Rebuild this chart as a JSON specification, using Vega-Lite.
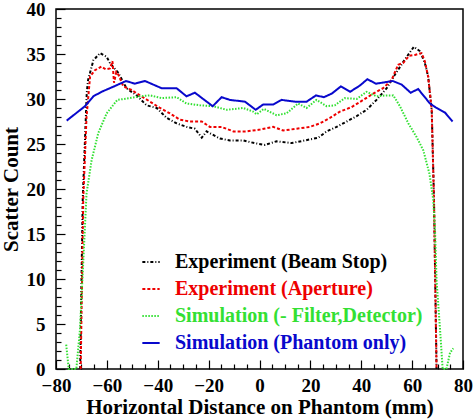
{
  "$schema": "https://vega.github.io/schema/vega-lite/v6.json",
  "width": 407,
  "height": 360,
  "autosize": {"type": "none"},
  "padding": {"left": 56, "top": 9, "right": 12, "bottom": 51},
  "background": "white",
  "config": {
    "view": {"stroke": "black", "strokeWidth": 1.5},
    "axis": {"domain": false, "grid": false, "tickColor": "black", "tickWidth": 1.2, "labelFont": "serif", "labelFontWeight": "bold", "labelFontSize": 19, "labelColor": "black", "titleFont": "serif", "titleFontWeight": "bold", "titleFontSize": 21, "titleColor": "black"}
  },
  "data": {"values": [
      {"series": "Experiment (Beam Stop)", "x": -70.5, "y": 0},
      {"series": "Experiment (Beam Stop)", "x": -69.5, "y": 18.8},
      {"series": "Experiment (Beam Stop)", "x": -67.9, "y": 30.7},
      {"series": "Experiment (Beam Stop)", "x": -67.4, "y": 32.1},
      {"series": "Experiment (Beam Stop)", "x": -65.3, "y": 34.3},
      {"series": "Experiment (Beam Stop)", "x": -62.7, "y": 35.1},
      {"series": "Experiment (Beam Stop)", "x": -60.1, "y": 34.7},
      {"series": "Experiment (Beam Stop)", "x": -58.8, "y": 34.0},
      {"series": "Experiment (Beam Stop)", "x": -55.5, "y": 32.9},
      {"series": "Experiment (Beam Stop)", "x": -52.3, "y": 31.2},
      {"series": "Experiment (Beam Stop)", "x": -48.3, "y": 30.4},
      {"series": "Experiment (Beam Stop)", "x": -44.4, "y": 29.3},
      {"series": "Experiment (Beam Stop)", "x": -40.4, "y": 29.0},
      {"series": "Experiment (Beam Stop)", "x": -36.5, "y": 27.9},
      {"series": "Experiment (Beam Stop)", "x": -32.6, "y": 27.3},
      {"series": "Experiment (Beam Stop)", "x": -28.7, "y": 26.9},
      {"series": "Experiment (Beam Stop)", "x": -25.4, "y": 26.7},
      {"series": "Experiment (Beam Stop)", "x": -22.7, "y": 25.7},
      {"series": "Experiment (Beam Stop)", "x": -20.8, "y": 26.4},
      {"series": "Experiment (Beam Stop)", "x": -15.5, "y": 25.6},
      {"series": "Experiment (Beam Stop)", "x": -11.6, "y": 25.4},
      {"series": "Experiment (Beam Stop)", "x": -6.4, "y": 25.4},
      {"series": "Experiment (Beam Stop)", "x": -2.0, "y": 25.1},
      {"series": "Experiment (Beam Stop)", "x": 2.2, "y": 24.9},
      {"series": "Experiment (Beam Stop)", "x": 6.7, "y": 25.3},
      {"series": "Experiment (Beam Stop)", "x": 12.6, "y": 25.1},
      {"series": "Experiment (Beam Stop)", "x": 17.9, "y": 25.4},
      {"series": "Experiment (Beam Stop)", "x": 23.1, "y": 25.7},
      {"series": "Experiment (Beam Stop)", "x": 26.4, "y": 26.4},
      {"series": "Experiment (Beam Stop)", "x": 30.3, "y": 26.9},
      {"series": "Experiment (Beam Stop)", "x": 34.3, "y": 27.5},
      {"series": "Experiment (Beam Stop)", "x": 38.2, "y": 28.1},
      {"series": "Experiment (Beam Stop)", "x": 42.1, "y": 28.8},
      {"series": "Experiment (Beam Stop)", "x": 46.0, "y": 29.9},
      {"series": "Experiment (Beam Stop)", "x": 50.0, "y": 31.2},
      {"series": "Experiment (Beam Stop)", "x": 53.9, "y": 33.0},
      {"series": "Experiment (Beam Stop)", "x": 57.9, "y": 34.7},
      {"series": "Experiment (Beam Stop)", "x": 60.7, "y": 35.8},
      {"series": "Experiment (Beam Stop)", "x": 63.1, "y": 35.3},
      {"series": "Experiment (Beam Stop)", "x": 65.0, "y": 34.0},
      {"series": "Experiment (Beam Stop)", "x": 66.3, "y": 32.5},
      {"series": "Experiment (Beam Stop)", "x": 67.7, "y": 28.8},
      {"series": "Experiment (Beam Stop)", "x": 68.6, "y": 18.8},
      {"series": "Experiment (Beam Stop)", "x": 69.6, "y": 0},

      {"series": "Experiment (Aperture)", "x": -70.3, "y": 0},
      {"series": "Experiment (Aperture)", "x": -69.3, "y": 18.8},
      {"series": "Experiment (Aperture)", "x": -68.0, "y": 28.0},
      {"series": "Experiment (Aperture)", "x": -66.6, "y": 32.5},
      {"series": "Experiment (Aperture)", "x": -64.7, "y": 33.2},
      {"series": "Experiment (Aperture)", "x": -62.1, "y": 33.6},
      {"series": "Experiment (Aperture)", "x": -60.5, "y": 33.3},
      {"series": "Experiment (Aperture)", "x": -58.8, "y": 33.4},
      {"series": "Experiment (Aperture)", "x": -57.8, "y": 34.2},
      {"series": "Experiment (Aperture)", "x": -57.2, "y": 31.8},
      {"series": "Experiment (Aperture)", "x": -56.3, "y": 33.0},
      {"series": "Experiment (Aperture)", "x": -55.5, "y": 32.7},
      {"series": "Experiment (Aperture)", "x": -53.5, "y": 31.4},
      {"series": "Experiment (Aperture)", "x": -50.3, "y": 31.0},
      {"series": "Experiment (Aperture)", "x": -47.0, "y": 30.4},
      {"series": "Experiment (Aperture)", "x": -43.0, "y": 29.7},
      {"series": "Experiment (Aperture)", "x": -39.1, "y": 29.0},
      {"series": "Experiment (Aperture)", "x": -35.2, "y": 28.4},
      {"series": "Experiment (Aperture)", "x": -31.3, "y": 27.7},
      {"series": "Experiment (Aperture)", "x": -27.3, "y": 27.5},
      {"series": "Experiment (Aperture)", "x": -22.7, "y": 27.5},
      {"series": "Experiment (Aperture)", "x": -19.5, "y": 26.9},
      {"series": "Experiment (Aperture)", "x": -14.9, "y": 26.9},
      {"series": "Experiment (Aperture)", "x": -10.3, "y": 26.4},
      {"series": "Experiment (Aperture)", "x": -5.1, "y": 26.4},
      {"series": "Experiment (Aperture)", "x": 0.2, "y": 26.6},
      {"series": "Experiment (Aperture)", "x": 5.4, "y": 26.9},
      {"series": "Experiment (Aperture)", "x": 9.3, "y": 26.5},
      {"series": "Experiment (Aperture)", "x": 14.6, "y": 26.7},
      {"series": "Experiment (Aperture)", "x": 19.8, "y": 26.9},
      {"series": "Experiment (Aperture)", "x": 23.8, "y": 27.3},
      {"series": "Experiment (Aperture)", "x": 27.7, "y": 27.9},
      {"series": "Experiment (Aperture)", "x": 31.6, "y": 28.6},
      {"series": "Experiment (Aperture)", "x": 36.2, "y": 29.1},
      {"series": "Experiment (Aperture)", "x": 40.8, "y": 29.9},
      {"series": "Experiment (Aperture)", "x": 44.7, "y": 30.6},
      {"series": "Experiment (Aperture)", "x": 48.6, "y": 31.2},
      {"series": "Experiment (Aperture)", "x": 51.9, "y": 32.1},
      {"series": "Experiment (Aperture)", "x": 54.5, "y": 33.8},
      {"series": "Experiment (Aperture)", "x": 56.5, "y": 34.0},
      {"series": "Experiment (Aperture)", "x": 58.8, "y": 34.8},
      {"series": "Experiment (Aperture)", "x": 61.1, "y": 34.9},
      {"series": "Experiment (Aperture)", "x": 63.7, "y": 35.1},
      {"series": "Experiment (Aperture)", "x": 65.0, "y": 34.2},
      {"series": "Experiment (Aperture)", "x": 66.3, "y": 32.5},
      {"series": "Experiment (Aperture)", "x": 67.7, "y": 28.8},
      {"series": "Experiment (Aperture)", "x": 68.6, "y": 18.8},
      {"series": "Experiment (Aperture)", "x": 69.6, "y": 0},

      {"series": "Simulation (- Filter,Detector)", "x": -76.0, "y": 2.7},
      {"series": "Simulation (- Filter,Detector)", "x": -75.0, "y": 0},
      {"series": "Simulation (- Filter,Detector)", "x": -72.0, "y": 0},
      {"series": "Simulation (- Filter,Detector)", "x": -70.6, "y": 4.3},
      {"series": "Simulation (- Filter,Detector)", "x": -69.3, "y": 11.8},
      {"series": "Simulation (- Filter,Detector)", "x": -68.0, "y": 19.5},
      {"series": "Simulation (- Filter,Detector)", "x": -66.0, "y": 23.2},
      {"series": "Simulation (- Filter,Detector)", "x": -63.4, "y": 26.2},
      {"series": "Simulation (- Filter,Detector)", "x": -60.1, "y": 28.4},
      {"series": "Simulation (- Filter,Detector)", "x": -55.9, "y": 29.9},
      {"series": "Simulation (- Filter,Detector)", "x": -50.9, "y": 30.1},
      {"series": "Simulation (- Filter,Detector)", "x": -47.0, "y": 30.3},
      {"series": "Simulation (- Filter,Detector)", "x": -43.0, "y": 30.4},
      {"series": "Simulation (- Filter,Detector)", "x": -38.5, "y": 30.1},
      {"series": "Simulation (- Filter,Detector)", "x": -32.6, "y": 30.2},
      {"series": "Simulation (- Filter,Detector)", "x": -28.7, "y": 29.5},
      {"series": "Simulation (- Filter,Detector)", "x": -23.4, "y": 29.3},
      {"series": "Simulation (- Filter,Detector)", "x": -18.2, "y": 29.2},
      {"series": "Simulation (- Filter,Detector)", "x": -12.9, "y": 28.8},
      {"series": "Simulation (- Filter,Detector)", "x": -6.4, "y": 29.0},
      {"series": "Simulation (- Filter,Detector)", "x": -2.5, "y": 28.6},
      {"series": "Simulation (- Filter,Detector)", "x": -1.1, "y": 28.3},
      {"series": "Simulation (- Filter,Detector)", "x": 1.7, "y": 28.9},
      {"series": "Simulation (- Filter,Detector)", "x": 6.7, "y": 28.2},
      {"series": "Simulation (- Filter,Detector)", "x": 10.6, "y": 28.4},
      {"series": "Simulation (- Filter,Detector)", "x": 15.2, "y": 29.5},
      {"series": "Simulation (- Filter,Detector)", "x": 18.5, "y": 29.0},
      {"series": "Simulation (- Filter,Detector)", "x": 22.4, "y": 29.9},
      {"series": "Simulation (- Filter,Detector)", "x": 26.4, "y": 29.2},
      {"series": "Simulation (- Filter,Detector)", "x": 29.6, "y": 29.3},
      {"series": "Simulation (- Filter,Detector)", "x": 33.6, "y": 30.1},
      {"series": "Simulation (- Filter,Detector)", "x": 38.2, "y": 30.0},
      {"series": "Simulation (- Filter,Detector)", "x": 42.1, "y": 30.8},
      {"series": "Simulation (- Filter,Detector)", "x": 46.0, "y": 30.3},
      {"series": "Simulation (- Filter,Detector)", "x": 50.0, "y": 30.4},
      {"series": "Simulation (- Filter,Detector)", "x": 52.6, "y": 30.4},
      {"series": "Simulation (- Filter,Detector)", "x": 55.2, "y": 29.2},
      {"series": "Simulation (- Filter,Detector)", "x": 58.5, "y": 27.3},
      {"series": "Simulation (- Filter,Detector)", "x": 61.7, "y": 25.8},
      {"series": "Simulation (- Filter,Detector)", "x": 64.4, "y": 24.3},
      {"series": "Simulation (- Filter,Detector)", "x": 66.8, "y": 21.7},
      {"series": "Simulation (- Filter,Detector)", "x": 68.3, "y": 18.8},
      {"series": "Simulation (- Filter,Detector)", "x": 69.0, "y": 15.4},
      {"series": "Simulation (- Filter,Detector)", "x": 69.6, "y": 9.9},
      {"series": "Simulation (- Filter,Detector)", "x": 71.0, "y": 4.3},
      {"series": "Simulation (- Filter,Detector)", "x": 72.0, "y": 0},
      {"series": "Simulation (- Filter,Detector)", "x": 73.5, "y": 0},
      {"series": "Simulation (- Filter,Detector)", "x": 74.9, "y": 1.8},
      {"series": "Simulation (- Filter,Detector)", "x": 76.2, "y": 2.3},

      {"series": "Simulation (Phantom only)", "x": -75.8, "y": 27.6},
      {"series": "Simulation (Phantom only)", "x": -68.6, "y": 29.2},
      {"series": "Simulation (Phantom only)", "x": -65.3, "y": 30.3},
      {"series": "Simulation (Phantom only)", "x": -62.1, "y": 30.8},
      {"series": "Simulation (Phantom only)", "x": -58.8, "y": 31.2},
      {"series": "Simulation (Phantom only)", "x": -54.8, "y": 31.7},
      {"series": "Simulation (Phantom only)", "x": -52.5, "y": 32.0},
      {"series": "Simulation (Phantom only)", "x": -49.0, "y": 31.7},
      {"series": "Simulation (Phantom only)", "x": -45.0, "y": 32.0},
      {"series": "Simulation (Phantom only)", "x": -38.5, "y": 31.2},
      {"series": "Simulation (Phantom only)", "x": -32.6, "y": 31.2},
      {"series": "Simulation (Phantom only)", "x": -28.7, "y": 30.3},
      {"series": "Simulation (Phantom only)", "x": -25.4, "y": 30.7},
      {"series": "Simulation (Phantom only)", "x": -18.4, "y": 29.2},
      {"series": "Simulation (Phantom only)", "x": -14.9, "y": 30.2},
      {"series": "Simulation (Phantom only)", "x": -11.6, "y": 29.9},
      {"series": "Simulation (Phantom only)", "x": -5.7, "y": 29.7},
      {"series": "Simulation (Phantom only)", "x": -1.5, "y": 28.8},
      {"series": "Simulation (Phantom only)", "x": 1.5, "y": 29.4},
      {"series": "Simulation (Phantom only)", "x": 5.4, "y": 29.4},
      {"series": "Simulation (Phantom only)", "x": 8.7, "y": 29.9},
      {"series": "Simulation (Phantom only)", "x": 14.0, "y": 29.7},
      {"series": "Simulation (Phantom only)", "x": 18.5, "y": 29.7},
      {"series": "Simulation (Phantom only)", "x": 22.2, "y": 30.4},
      {"series": "Simulation (Phantom only)", "x": 25.3, "y": 30.2},
      {"series": "Simulation (Phantom only)", "x": 28.4, "y": 30.6},
      {"series": "Simulation (Phantom only)", "x": 32.0, "y": 31.4},
      {"series": "Simulation (Phantom only)", "x": 35.6, "y": 30.8},
      {"series": "Simulation (Phantom only)", "x": 39.5, "y": 31.5},
      {"series": "Simulation (Phantom only)", "x": 42.4, "y": 32.2},
      {"series": "Simulation (Phantom only)", "x": 45.8, "y": 31.7},
      {"series": "Simulation (Phantom only)", "x": 52.4, "y": 32.0},
      {"series": "Simulation (Phantom only)", "x": 55.9, "y": 31.6},
      {"series": "Simulation (Phantom only)", "x": 59.4, "y": 30.7},
      {"series": "Simulation (Phantom only)", "x": 62.4, "y": 31.1},
      {"series": "Simulation (Phantom only)", "x": 67.0, "y": 29.5},
      {"series": "Simulation (Phantom only)", "x": 69.6, "y": 29.0},
      {"series": "Simulation (Phantom only)", "x": 72.9, "y": 28.5},
      {"series": "Simulation (Phantom only)", "x": 75.9, "y": 27.5}
  ]},
  "mark": {"type": "line"},
  "encoding": {
    "x": {"field": "x", "type": "quantitative", "scale": {"domain": [-80, 80], "nice": false, "zero": false},
      "axis": {"orient": "bottom", "title": "Horizontal Distance on Phantom (mm)", "values": [-80,-75,-70,-65,-60,-55,-50,-45,-40,-35,-30,-25,-20,-15,-10,-5,0,5,10,15,20,25,30,35,40,45,50,55,60,65,70,75,80],
        "labelExpr": "datum.value % 20 === 0 ? datum.label : ''",
        "tickSize": {"condition": {"test": "datum.value % 20 === 0", "value": -9}, "value": -5},
        "labelPadding": 16, "titlePadding": -3, "labelFlush": false, "labelOverlap": false}},
    "y": {"field": "y", "type": "quantitative", "scale": {"domain": [0, 40], "nice": false},
      "axis": {"orient": "left", "title": "Scatter Count", "values": [0,1,2,3,4,5,6,7,8,9,10,11,12,13,14,15,16,17,18,19,20,21,22,23,24,25,26,27,28,29,30,31,32,33,34,35,36,37,38,39,40],
        "labelExpr": "datum.value % 5 === 0 ? datum.label : ''",
        "tickSize": {"condition": {"test": "datum.value % 5 === 0", "value": -9}, "value": -5},
        "labelPadding": 20, "titlePadding": 5, "labelFlush": false, "labelOverlap": false}},
    "color": {"field": "series", "type": "nominal",
      "scale": {"domain": ["Experiment (Beam Stop)", "Experiment (Aperture)", "Simulation (- Filter,Detector)", "Simulation (Phantom only)"],
                "range": ["#000000", "#ee0000", "#33e033", "#0808cc"]},
      "legend": {"orient": "none", "legendX": 85, "legendY": 243, "title": null, "symbolType": "stroke", "symbolSize": 300, "symbolStrokeWidth": 2,
        "labelFont": "Times New Roman", "labelFontSize": 20, "labelFontWeight": "bold", "labelOffset": 14, "rowPadding": 7, "labelLimit": 400, "padding": 0,
        "encode": {"labels": {"update": {"fill": {"scale": "color", "field": "value"}}}}}},
    "strokeDash": {"field": "series", "type": "nominal",
      "scale": {"domain": ["Experiment (Beam Stop)", "Experiment (Aperture)", "Simulation (- Filter,Detector)", "Simulation (Phantom only)"],
                "range": [[3, 2, 1, 2], [3, 2], [1.5, 1.5], [1, 0]]},
      "legend": {"orient": "none", "legendX": 85, "legendY": 243, "title": null, "symbolType": "stroke", "symbolSize": 300, "symbolStrokeWidth": 2,
        "labelFont": "Times New Roman", "labelFontSize": 20, "labelFontWeight": "bold", "labelOffset": 14, "rowPadding": 7, "labelLimit": 400, "padding": 0,
        "encode": {"labels": {"update": {"fill": {"scale": "color", "field": "value"}}}}}},
    "strokeWidth": {"field": "series", "type": "nominal",
      "scale": {"domain": ["Experiment (Beam Stop)", "Experiment (Aperture)", "Simulation (- Filter,Detector)", "Simulation (Phantom only)"],
                "range": [2, 2, 1.6, 2.4]},
      "legend": null}
  }
}
